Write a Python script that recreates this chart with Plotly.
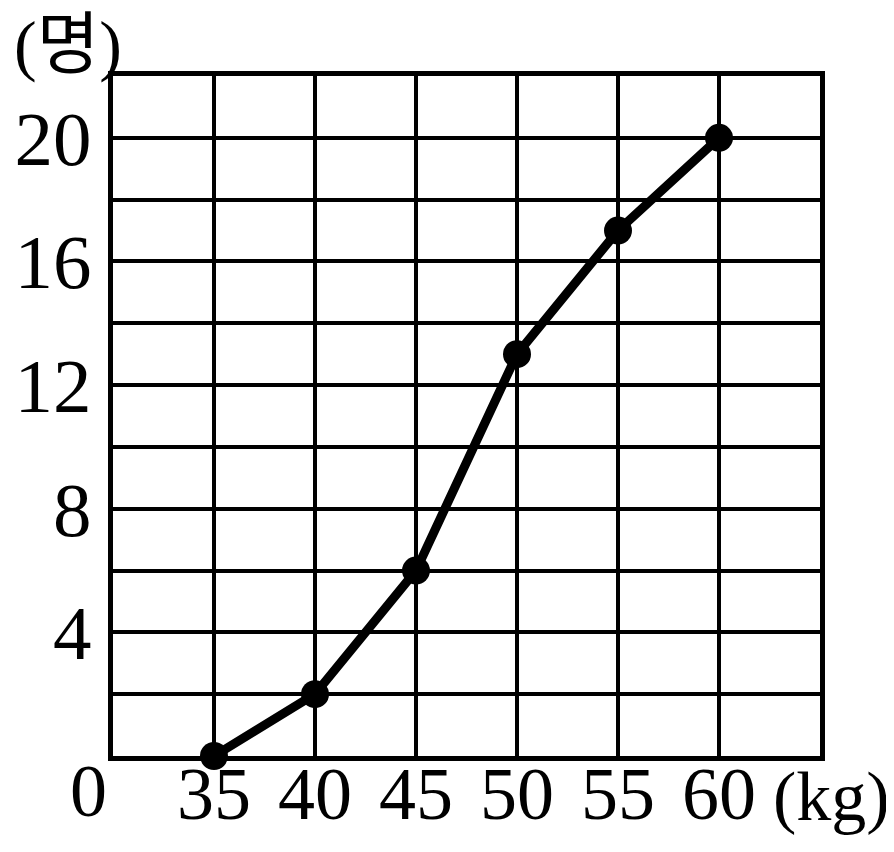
import plotly.graph_objects as go

weights = [35, 40, 45, 50, 55, 60]
cum_counts = [0, 2, 6, 13, 17, 20]
x_ticks = [35, 40, 45, 50, 55, 60]
y_ticks = [4, 8, 12, 16, 20]

FONT = "Liberation Serif, Noto Sans CJK KR, serif"
FS = 74

fig = go.Figure()
fig.add_trace(go.Scatter(
    x=weights, y=cum_counts, mode="lines+markers",
    line=dict(color="black", width=9),
    marker=dict(color="black", size=28),
    cliponaxis=False, showlegend=False, hoverinfo="skip",
))

fig.update_layout(
    width=894, height=852,
    margin=dict(l=105, r=82, t=68, b=104),
    paper_bgcolor="white", plot_bgcolor="white",
    font=dict(family=FONT, size=FS, color="black"),
    xaxis=dict(
        range=[30, 65], tickvals=x_ticks, ticktext=[str(v) for v in x_ticks],
        showgrid=True, gridcolor="black", gridwidth=4,
        showline=True, linecolor="black", linewidth=5, mirror=True,
        zeroline=False, ticks="", ticklabelstandoff=-31, automargin=False,
        tickfont=dict(family=FONT, size=FS),
    ),
    yaxis=dict(
        range=[0, 22], tickvals=y_ticks, ticktext=[str(v) for v in y_ticks],
        showgrid=True, gridcolor="black", gridwidth=4,
        minor=dict(dtick=2, tick0=0, showgrid=True, gridcolor="black", gridwidth=4),
        showline=True, linecolor="black", linewidth=5, mirror=True,
        zeroline=False, ticks="", ticklabelstandoff=1, automargin=False,
        tickfont=dict(family=FONT, size=77),
    ),
    annotations=[
        dict(text="(명)", xref="paper", yref="paper", x=0, y=1.0,
             xanchor="center", yanchor="bottom", showarrow=False,
             font=dict(family=FONT, size=68), xshift=-45, yshift=-9),
        dict(text="(kg)", xref="paper", yref="paper", x=1.0, y=0,
             xanchor="center", yanchor="top", showarrow=False,
             font=dict(family=FONT, size=70), xshift=11, yshift=0),
        dict(text="0", xref="paper", yref="paper", x=0, y=0,
             xanchor="right", yanchor="top", showarrow=False,
             font=dict(family=FONT, size=FS), xshift=-4, yshift=8),
    ],
)

fig.write_html("out.html")
